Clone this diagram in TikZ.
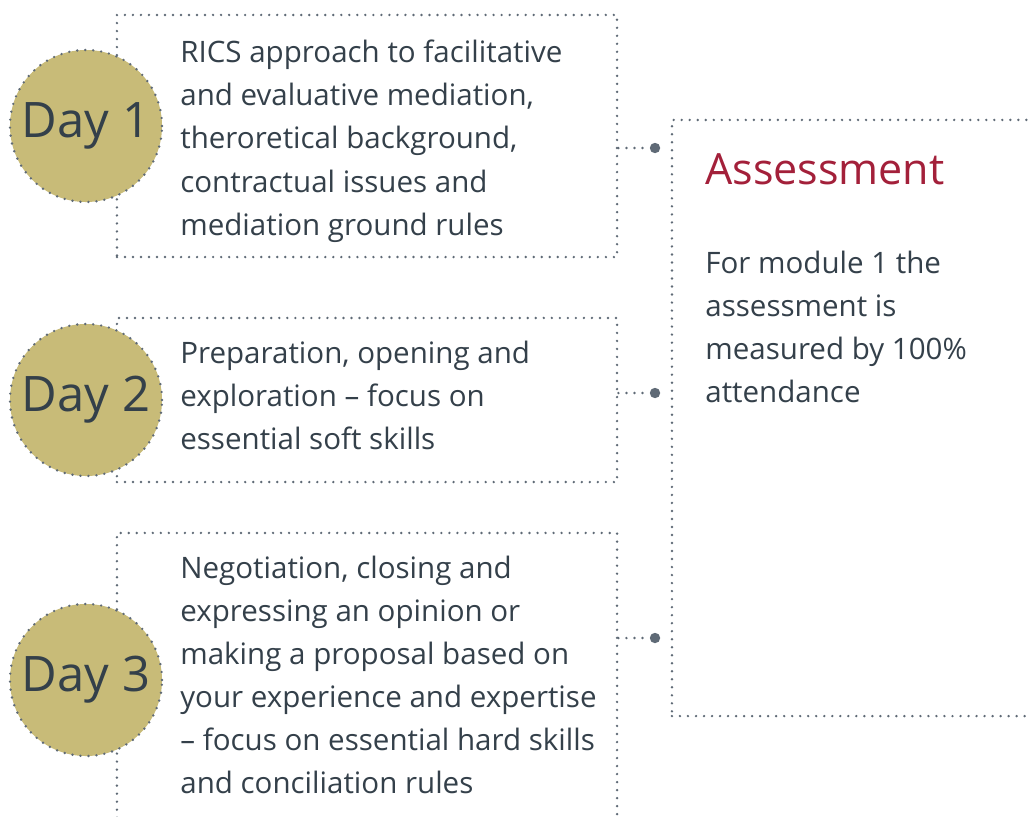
\documentclass[tikz,border=0pt]{standalone}
\usepackage{fontspec}
\setmainfont{Open Sans}
\usetikzlibrary{positioning}
\definecolor{dayfill}{RGB}{200,187,120}
\definecolor{dotgray}{RGB}{95,106,118}
\definecolor{textgray}{RGB}{52,64,74}
\definecolor{assessred}{RGB}{163,32,58}

\begin{document}
\begin{tikzpicture}[x=0.025cm, y=-0.025cm, line width=1.9pt]
    \tikzstyle{dots}=[draw=dotgray, line cap=round, dash pattern=on 0pt off 5.7pt]
    \tikzstyle{box}=[dots, rectangle, minimum width=12.5cm, inner sep=0pt]
    \tikzstyle{day}=[dots, circle, fill=dayfill, minimum size=3.8cm, inner sep=0pt, text=textgray, font=\fontsize{34.8}{40}\selectfont]
    \tikzstyle{pin}=[circle, fill=dotgray, minimum size=0.26cm, inner sep=0pt]
    \tikzstyle{info}=[anchor=north west, align=left, inner sep=0pt, text=textgray, font=\fontsize{21}{30.6}\selectfont]

    \clip (0,0) rectangle (1030,816);

    % day boxes
    \foreach \n/\y/\h in {1/136/6.05cm, 2/400/4.1cm, 3/692/7.95cm}{
        \node[box, minimum height=\h] (B-\n) at (367,\y) {};
    }
    \node[dots, rectangle, minimum width=9.7cm, minimum height=14.9cm, inner sep=0pt] (A) at (866,418) {};

    % pins and connectors
    \foreach \n/\y in {1/148, 2/393, 3/638}{
        \node[pin] (P-\n) at (655,\y) {};
        \draw[dots] (B-\n.east |- P-\n) -- (P-\n);
    }

    % day circles
    \foreach \n/\y in {1/126, 2/400, 3/680}{
        \node[day] (D-\n) at (86,\y) {Day \n};
    }

    \node[info] (T-1) at (179,39) {RICS approach to facilitative\\and evaluative mediation,\\theroretical background,\\contractual issues and\\mediation ground rules};
    \node[info] (T-2) at (179,340) {Preparation, opening and\\exploration – focus on\\essential soft skills};
    \node[info] (T-3) at (179,555) {Negotiation, closing and\\expressing an opinion or\\making a proposal based on\\your experience and expertise\\– focus on essential hard skills\\and conciliation rules};

    \node[anchor=north west, inner sep=0pt, text=assessred, font=\fontsize{30.6}{36}\selectfont] (A-title) at (704,152) {Assessment};
    \node[info] (A-text) at (704,250) {For module 1 the\\assessment is\\measured by 100\%\\attendance};
\end{tikzpicture}
\end{document}
